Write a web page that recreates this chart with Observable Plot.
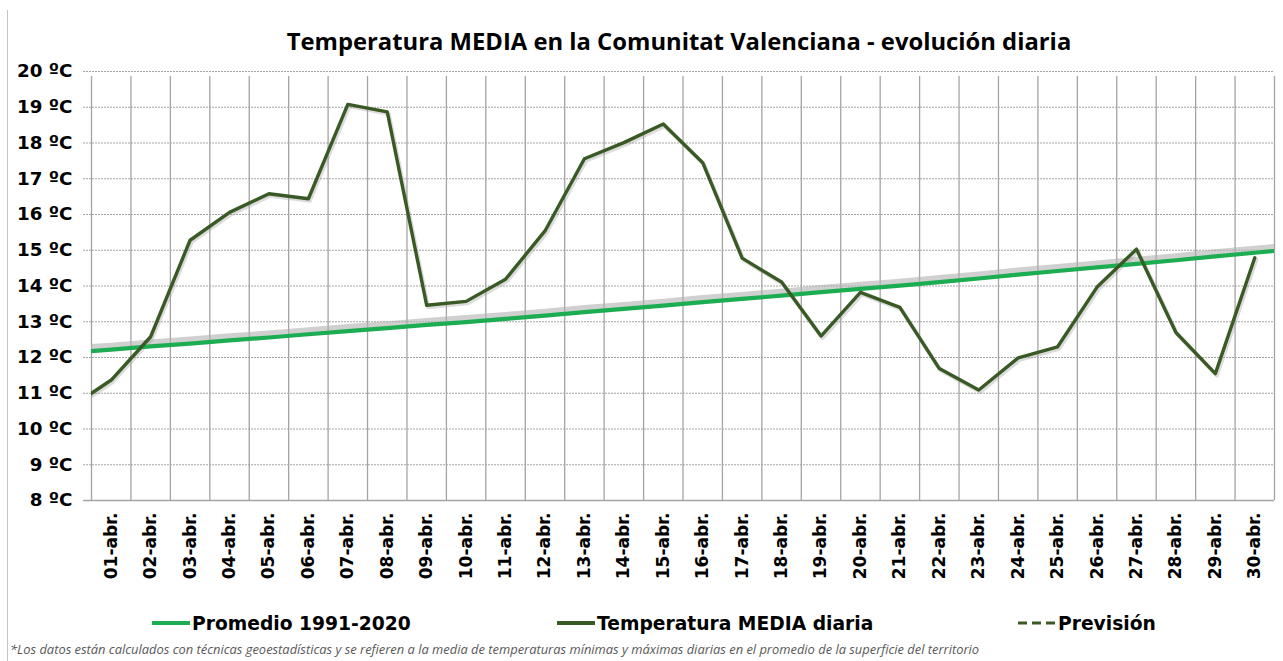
<!DOCTYPE html>
<html>
<head>
<meta charset="utf-8">
<script src="https://cdn.jsdelivr.net/npm/d3@7"></script>
<script src="https://cdn.jsdelivr.net/npm/@observablehq/plot@0.6"></script>
<style>
  html, body { margin: 0; padding: 0; background: #fff; }
  #wrap { position: relative; width: 1283px; height: 661px; overflow: hidden; background: #fff; }
  #border { position: absolute; left: 7px; top: 10px; width: 1px; height: 660px; background: #c4c4c4; }
  #title { position: absolute; left: 0; width: 1358px; top: 27px; text-align: center;
           font-family: "Open Sans", sans-serif; font-weight: 700; font-size: 23.8px; line-height: 28px; color: #000; }
  #chart { position: absolute; left: 0; top: 60px; }
  #chart svg text { font-family: "DejaVu Sans", Verdana, sans-serif; font-weight: bold; fill: #000; }
  .leg { position: absolute; top: 611px; height: 24px; display: flex; align-items: center;
         font-family: "DejaVu Sans", Verdana, sans-serif; font-weight: bold; font-size: 18.7px; color: #000; white-space: nowrap; }
  .leg svg { margin-right: 2px; }
  #caption { position: absolute; left: 10px; top: 640px; font-family: "Open Sans", sans-serif; font-style: italic;
             font-size: 12.9px; color: #595959; white-space: nowrap; }
</style>
</head>
<body>
<div id="wrap">
  <div id="border"></div>
  <div id="title"></div>
  <div id="chart"></div>
  <div class="leg" id="leg1" style="left:152px"></div>
  <div class="leg" id="leg2" style="left:557px"></div>
  <div class="leg" id="leg3" style="left:1018px"></div>
  <div id="caption"></div>
</div>
<script>
const titleText = "Temperatura MEDIA en la Comunitat Valenciana - evolución diaria";
const captionText = "*Los datos están calculados con técnicas geoestadísticas y se refieren a la media de temperaturas mínimas y máximas diarias en el promedio de la superficie del territorio";

const days = ["01-abr.","02-abr.","03-abr.","04-abr.","05-abr.","06-abr.","07-abr.","08-abr.","09-abr.","10-abr.",
              "11-abr.","12-abr.","13-abr.","14-abr.","15-abr.","16-abr.","17-abr.","18-abr.","19-abr.","20-abr.",
              "21-abr.","22-abr.","23-abr.","24-abr.","25-abr.","26-abr.","27-abr.","28-abr.","29-abr.","30-abr."];

// Temperatura MEDIA diaria (ºC)
const media = [11.37, 12.58, 15.28, 16.06, 16.58, 16.44, 19.08, 18.87, 13.46, 13.57,
               14.19, 15.54, 17.56, 18.01, 18.53, 17.45, 14.78, 14.11, 12.60, 13.82,
               13.40, 11.69, 11.09, 11.99, 12.30, 13.97, 15.03, 12.70, 11.55, 14.79];
// Promedio 1991-2020 (ºC)
const promedio = [12.22, 12.31, 12.39, 12.48, 12.56, 12.65, 12.74, 12.82, 12.91, 12.99,
                  13.08, 13.17, 13.27, 13.36, 13.45, 13.55, 13.64, 13.73, 13.83, 13.92,
                  14.01, 14.11, 14.21, 14.32, 14.42, 14.52, 14.62, 14.72, 14.83, 14.93];
// neighbouring days (outside the window, clipped by the frame)
const mediaBefore = 10.63;      // 31-mar.
const promedioBefore = 12.14;   // 31-mar.
const promedioAfter = 15.03;    // 01-may.

const yTicks = [8, 9, 10, 11, 12, 13, 14, 15, 16, 17, 18, 19, 20];

const colPromedio = "#1cad52";
const colMedia = "#3a5a25";
const colGrid = "#a4a4a4";

// build tables
const mediaRows = [{i: -1, v: mediaBefore}, ...media.map((v, i) => ({i, v}))].map(d => ({x: d.i + 0.5, v: d.v}));
const promRows = [{i: -1, v: promedioBefore}, ...promedio.map((v, i) => ({i, v})), {i: 30, v: promedioAfter}]
  .map(d => ({x: d.i + 0.5, v: d.v}));
const bounds = d3.range(0, days.length + 1);
const centers = days.map((d, i) => i + 0.5);

document.getElementById("title").textContent = titleText;
document.getElementById("caption").textContent = captionText;

const chart = Plot.plot({
  width: 1283,
  height: 540,
  marginTop: 11,
  marginLeft: 91,
  marginRight: 9,
  marginBottom: 100,
  x: {domain: [0, days.length]},
  y: {domain: [8, 20]},
  marks: [
    Plot.ruleY(yTicks.filter(d => d > 8), {stroke: colGrid, strokeDasharray: "2,1", strokeWidth: 1, insetLeft: -8}),
    Plot.ruleX(bounds, {y1: 8, y2: 20, stroke: colGrid, strokeWidth: 1.3, insetBottom: -5}),
    Plot.ruleY([8], {stroke: colGrid, strokeWidth: 1.3, insetLeft: -8}),
    // shadows
    Plot.line(promRows, {x: "x", y: "v", stroke: "#b0b0b0", strokeWidth: 6, strokeOpacity: 0.6, dy: -4, clip: true}),
    Plot.line(mediaRows, {x: "x", y: "v", stroke: "#9a9a9a", strokeWidth: 4, strokeOpacity: 0.35, dx: 1.5, dy: 2, clip: true}),
    // series
    Plot.line(promRows, {x: "x", y: "v", stroke: colPromedio, strokeWidth: 4.2, clip: true}),
    Plot.line(mediaRows, {x: "x", y: "v", stroke: colMedia, strokeWidth: 3.4, clip: true}),
    Plot.axisY({ticks: yTicks, tickFormat: d => `${d} ºC`, tickSize: 0, tickPadding: 19, fontSize: 18.3, label: null}),
    Plot.axisX({ticks: centers, tickFormat: d => days[Math.floor(d)], tickRotate: -90, tickSize: 0, tickPadding: 12, fontSize: 17, label: null})
  ]
});
document.getElementById("chart").appendChild(chart);

function legendItem(id, label, color, dash) {
  const el = document.getElementById(id);
  const w = 38;
  const ns = "http://www.w3.org/2000/svg";
  const s = document.createElementNS(ns, "svg");
  s.setAttribute("width", w); s.setAttribute("height", 10);
  const l = document.createElementNS(ns, "line");
  l.setAttribute("x1", 0); l.setAttribute("x2", w); l.setAttribute("y1", 5); l.setAttribute("y2", 5);
  l.setAttribute("stroke", color); l.setAttribute("stroke-width", dash ? 3 : 4);
  if (dash) l.setAttribute("stroke-dasharray", "9,5");
  s.appendChild(l);
  el.appendChild(s);
  const t = document.createElement("span");
  t.textContent = label;
  el.appendChild(t);
}
legendItem("leg1", "Promedio 1991-2020", colPromedio, false);
legendItem("leg2", "Temperatura MEDIA diaria", colMedia, false);
legendItem("leg3", "Previsión", colMedia, true);
</script>
</body>
</html>
